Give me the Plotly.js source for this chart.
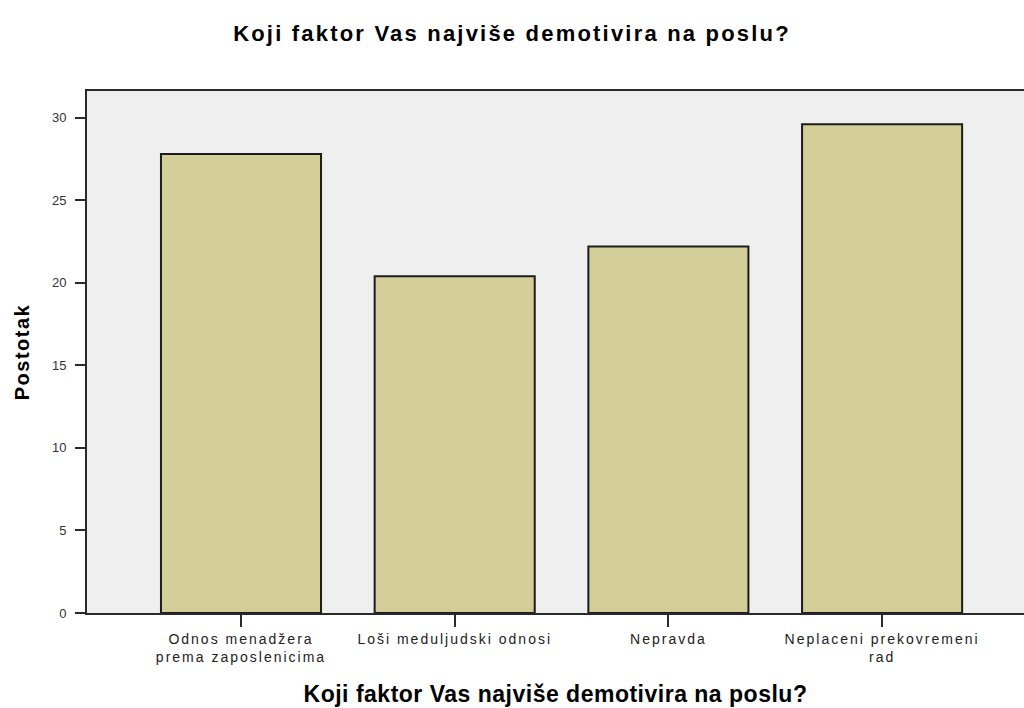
<!DOCTYPE html>
<html>
<head>
<meta charset="utf-8">
<script src="https://cdn.plot.ly/plotly-3.0.1.min.js"></script>
<style>
  html, body { margin: 0; padding: 0; background: #ffffff; }
  #chart { width: 1024px; height: 708px; }
  .gtitle { letter-spacing: 2.2px; }
  .g-xtitle text { letter-spacing: 0.5px; }
  .g-ytitle text { letter-spacing: 1.5px; }
  .xtick text { letter-spacing: 2px; }
</style>
</head>
<body>
<div id="chart"></div>
<script>
const categories = [
  "Odnos menadžera<br>prema zaposlenicima",
  "Loši meduljudski odnosi",
  "Nepravda",
  "Neplaceni prekovremeni<br>rad"
];
const percentages = [27.8, 20.4, 22.2, 29.6];
const yTickValues = [0, 5, 10, 15, 20, 25, 30];
const chartTitle = "Koji faktor Vas najviše demotivira na poslu?";
const xAxisTitle = "Koji faktor Vas najviše demotivira na poslu?";
const yAxisTitle = "Postotak";

const trace = {
  type: "bar",
  x: categories,
  y: percentages,
  marker: {
    color: "#d3ce97",
    line: { color: "#1c1c1c", width: 2 }
  },
  hoverinfo: "x+y"
};

const layout = {
  width: 1024,
  height: 708,
  margin: { l: 87, r: 0, t: 91, b: 95, pad: 0 },
  paper_bgcolor: "#ffffff",
  plot_bgcolor: "#efefef",
  showlegend: false,
  bargap: 0.251,
  font: { family: "Liberation Sans, Arial, sans-serif", color: "#222" },
  title: {
    text: "<b>" + chartTitle + "</b>",
    x: 0.5,
    xanchor: "center",
    y: 1 - 33 / 708,
    yanchor: "middle",
    font: { family: "Liberation Sans, Arial, sans-serif", size: 22, color: "#000" }
  },
  xaxis: {
    type: "category",
    range: [-0.7206, 3.664],
    showline: true,
    linecolor: "#2a2a2a",
    linewidth: 2,
    mirror: true,
    ticks: "outside",
    ticklen: 12,
    tickwidth: 1.5,
    tickcolor: "#2a2a2a",
    showgrid: false,
    zeroline: false,
    tickfont: { size: 14, color: "#222" },
    automargin: false,
    title: {
      text: "<b>" + xAxisTitle + "</b>",
      font: { size: 23, color: "#000" },
      standoff: 22
    }
  },
  yaxis: {
    range: [0, 31.62],
    tickvals: yTickValues,
    ticktext: yTickValues.map(String),
    showline: true,
    linecolor: "#2a2a2a",
    linewidth: 2,
    ticks: "outside",
    ticklen: 10,
    tickwidth: 1.5,
    tickcolor: "#2a2a2a",
    showgrid: false,
    zeroline: false,
    tickfont: { size: 13, color: "#333" },
    ticklabelstandoff: 6,
    automargin: false,
    title: {
      text: "<b>" + yAxisTitle + "</b>",
      font: { size: 20, color: "#000" },
      standoff: 17
    }
  }
};

Plotly.newPlot("chart", [trace], layout, { displayModeBar: false, responsive: false });
</script>
</body>
</html>
